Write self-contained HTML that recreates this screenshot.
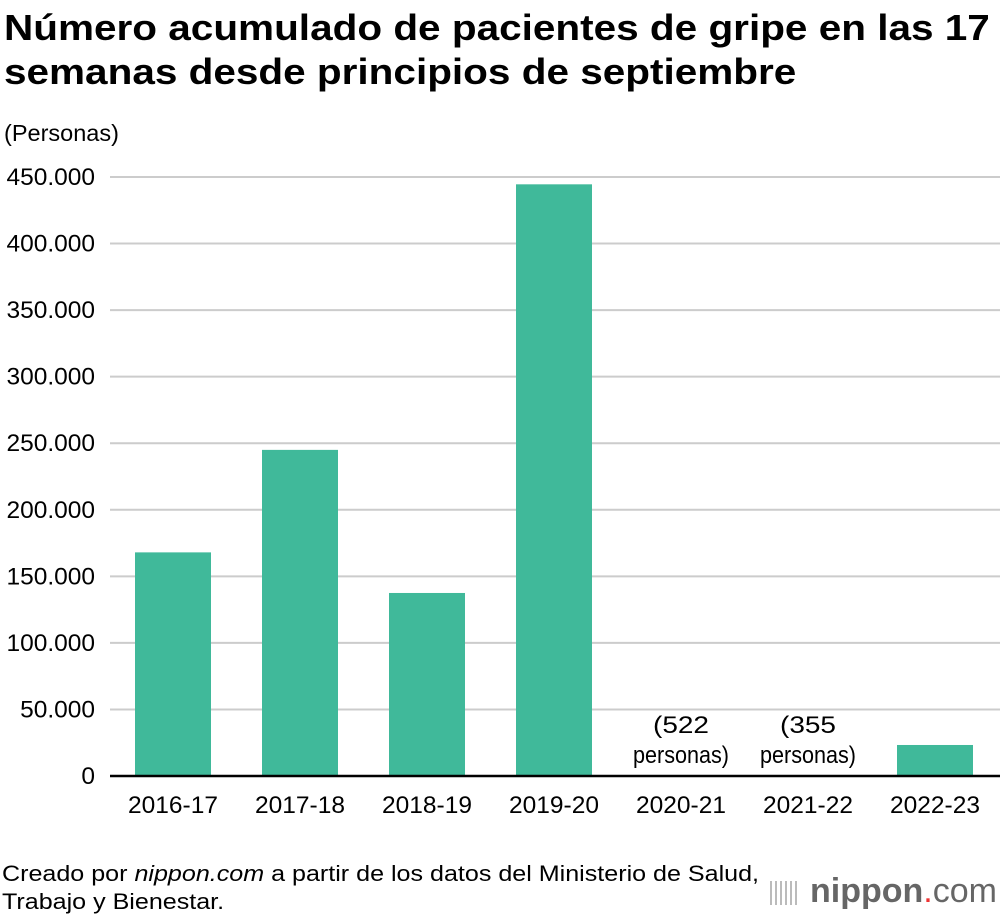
<!DOCTYPE html>
<html><head><meta charset="utf-8"><style>
body{margin:0;background:#fff;font-family:"Liberation Sans",sans-serif;}
#wrap{position:relative;width:1000px;height:920px;overflow:hidden;}
.t{position:absolute;color:#000;transform-origin:0 0;white-space:nowrap;}
</style></head><body>
<div id="wrap">
<div class="t" style="left:4px;top:6px;font-size:36px;font-weight:bold;line-height:44px;transform:scaleX(1.125);">Número acumulado de pacientes de gripe en las 17<br>semanas desde principios de septiembre</div>
<div class="t" style="left:4px;top:120px;font-size:23.5px;">(Personas)</div>
<svg id="chart" width="1000" height="920" style="position:absolute;left:0;top:0"></svg>
<div class="t" style="left:2px;top:860px;font-size:22px;line-height:28px;transform:scaleX(1.14);">Creado por <i>nippon.com</i> a partir de los datos del Ministerio de Salud,<br>Trabajo y Bienestar.</div>
<div class="t" style="left:770px;top:872px;font-size:34px;color:#666;white-space:nowrap;">
<span style="display:inline-block;width:30px;height:24px;vertical-align:middle;background:repeating-linear-gradient(90deg,#bbb 0 2px,transparent 2px 5px);margin-right:10px;"></span><span style="font-weight:bold">nippon</span><span style="color:#e33">.</span><span>com</span></div>
</div>
<script>
const categories=["2016-17","2017-18","2018-19","2019-20","2020-21","2021-22","2022-23"];
const values=[168000,245000,137500,444500,522,355,23300];
const notes=["","","","","(522|personas)","(355|personas)",""];
const ticks=[0,50000,100000,150000,200000,250000,300000,350000,400000,450000];
const tickLabels=["0","50.000","100.000","150.000","200.000","250.000","300.000","350.000","400.000","450.000"];
const NS="http://www.w3.org/2000/svg";
const svg=document.getElementById('chart');
const y0=776,y1=177,vmax=450000,x0=110,x1=1000,slot=127,firstC=173,bw=76;
const y=v=>y0-(v/vmax)*(y0-y1);
const x=i=>firstC+i*slot;
function mk(t,a){const e=document.createElementNS(NS,t);for(const k in a)e.setAttribute(k,a[k]);svg.appendChild(e);return e;}
ticks.forEach((t,i)=>{
 if(t>0){const l=mk('line',{x1:x0,x2:x1,y1:y(t),y2:y(t),stroke:'#ccc','stroke-width':2});
 
 }
 const tx=mk('text',{x:95,y:y(t)+8,'text-anchor':'end','font-size':24.5,'font-family':'Liberation Sans'});
 tx.textContent=tickLabels[i];
 
 
});
values.forEach((v,i)=>{
 const r=mk('rect',{x:x(i)-bw/2,y:y(v),width:bw,height:y0-y(v),fill:'#40b99a'});
 
 
 const lb=mk('text',{x:x(i),y:813,'text-anchor':'middle','font-size':24.5,'font-family':'Liberation Sans'});
 lb.textContent=categories[i];
 
 
 if(notes[i]){const p=notes[i].split('|');
  p.forEach((s,j)=>{const n=mk('text',{x:x(i),y:733+j*30,'text-anchor':'middle','font-size':24,'font-family':'Liberation Sans','textLength':s.length>5?96:56,'lengthAdjust':'spacingAndGlyphs'});
  n.textContent=s;
  
  });}
});
const base=mk('line',{x1:x0,x2:x1,y1:y0,y2:y0,stroke:'#000','stroke-width':2.5});


</script>
</body></html>
